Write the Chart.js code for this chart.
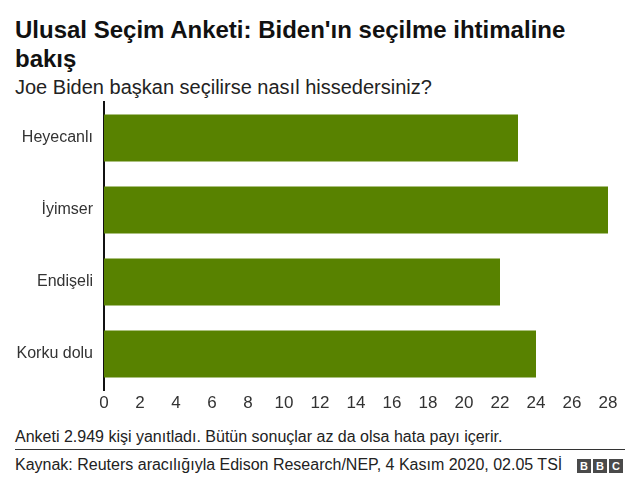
<!DOCTYPE html>
<html lang="tr">
<head>
  <meta charset="UTF-8" />
  <title>Ulusal Seçim Anketi</title>
  <script src="https://cdn.jsdelivr.net/npm/chart.js"></script>
  <style>
    body { margin: 0; width: 640px; height: 493px; background: #fff; font-family: "Liberation Sans", Arial, sans-serif; color: #000; position: relative; overflow: hidden; }
    .title { position: absolute; left: 15px; top: 15px; width: 590px; font-size: 24px; font-weight: bold; line-height: 29px; color: #111; }
    .subtitle { position: absolute; left: 15px; top: 75px; font-size: 20px; line-height: 24px; color: #222; }
    #wrap { position: absolute; left: 0; top: 100px; width: 640px; height: 320px; }
    .note { position: absolute; left: 15px; top: 428px; font-size: 16px; line-height: 18px; color: #222; }
    .rule { position: absolute; left: 15px; top: 449px; width: 610px; height: 1px; background: #333; }
    .source { position: absolute; left: 15px; top: 456px; font-size: 16px; line-height: 18px; color: #222; }
    .bbc { position: absolute; left: 577px; top: 459px; display: flex; gap: 2px; }
    .bbc span { width: 14px; height: 14px; background: #4a4a4a; color: #fff; font-weight: bold; font-size: 11px; line-height: 14px; text-align: center; }
  </style>
</head>
<body>
  <div class="title">Ulusal Seçim Anketi: Biden'ın seçilme ihtimaline bakış</div>
  <div class="subtitle">Joe Biden başkan seçilirse nasıl hissedersiniz?</div>
  <div id="wrap"><canvas id="chart" width="640" height="320"></canvas></div>
  <div class="note">Anketi 2.949 kişi yanıtladı. Bütün sonuçlar az da olsa hata payı içerir.</div>
  <div class="rule"></div>
  <div class="source">Kaynak: Reuters aracılığıyla Edison Research/NEP, 4 Kasım 2020, 02.05 TSİ</div>
  <div class="bbc"><span>B</span><span>B</span><span>C</span></div>

  <script>
    const categories = ['Heyecanlı', 'İyimser', 'Endişeli', 'Korku dolu'];
    const values = [23, 28, 22, 24];

    new Chart(document.getElementById('chart'), {
      type: 'bar',
      data: {
        labels: categories,
        datasets: [{
          data: values,
          backgroundColor: '#588200',
          barPercentage: 0.65,
          categoryPercentage: 1
        }]
      },
      options: {
        indexAxis: 'y',
        responsive: false,
        animation: false,
        layout: { padding: { top: 2, right: 32, left: 0, bottom: 0 } },
        plugins: {
          legend: { display: false },
          tooltip: { enabled: false }
        },
        scales: {
          x: {
            min: 0,
            max: 28,
            grid: { display: false, drawTicks: false },
            border: { display: false },
            ticks: { stepSize: 2, color: '#333', padding: 3, font: { family: 'Liberation Sans', size: 17 } },
            afterFit: (s) => { s.height = 30; s.paddingLeft = 0; s.paddingRight = 0; }
          },
          y: {
            grid: { display: false, drawTicks: false },
            border: { color: '#111', width: 2 },
            ticks: { color: '#333', padding: 11, font: { family: 'Liberation Sans', size: 16 } },
            afterFit: (s) => { s.width = 104; s.paddingTop = 0; s.paddingBottom = 0; }
          }
        }
      }
    });
  </script>
</body>
</html>
